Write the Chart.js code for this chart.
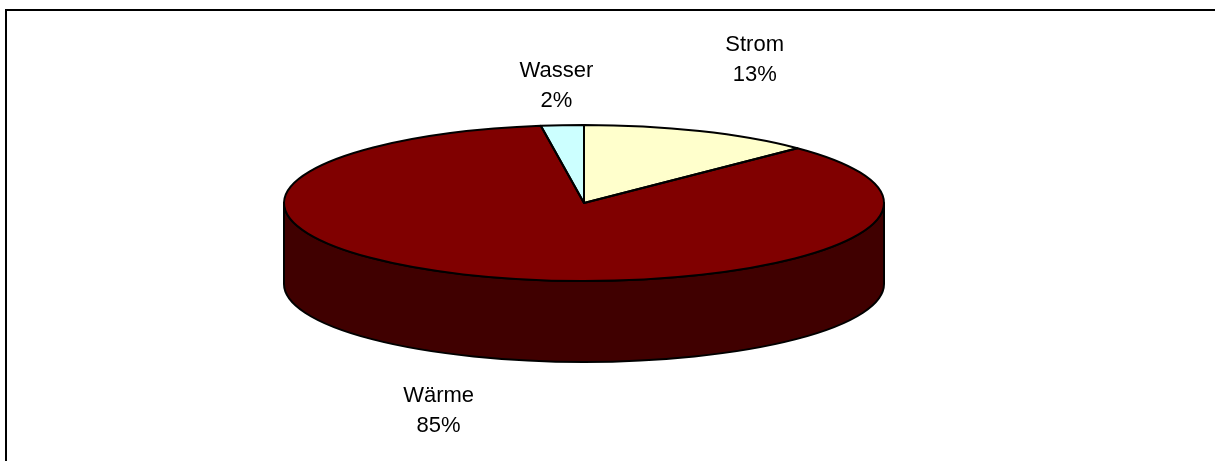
<!DOCTYPE html>
<html><head><meta charset="utf-8">
<style>html,body{margin:0;padding:0;background:#fff}#w{position:absolute;left:0;top:0;width:1215px;height:461px}</style>
<script src="https://cdn.jsdelivr.net/npm/chart.js@4"></script></head>
<body><div id="w"><canvas id="c" width="1215" height="461"></canvas></div>
<script>
const categories = ["Strom", "Wärme", "Wasser"];
const shares = [12.6, 85.1, 2.3];
const topColors = ["#FFFFCC", "#800000", "#CCFFFF"];
const sideColors = ["#808066", "#400000", "#668080"];
const labelOffsets = [[55, -80], [-50, 44], [-6, -48]];

const CX = 584, CY = 203, RX = 300, RY = 78, DEPTH = 81;
const K = RY / RX;
const frame = {x: 6, y: 10};

const pie3d = {
  id: 'pie3d',
  beforeDraw(chart) {
    const ctx = chart.ctx;
    ctx.save();
    ctx.fillStyle = '#fff';
    ctx.fillRect(0, 0, chart.width, chart.height);
    ctx.strokeStyle = '#000';
    ctx.lineWidth = 2;
    ctx.beginPath();
    ctx.moveTo(frame.x, chart.height);
    ctx.lineTo(frame.x, frame.y);
    ctx.lineTo(chart.width, frame.y);
    ctx.stroke();
    ctx.restore();
  },
  beforeDatasetDraw(chart) {
    const ctx = chart.ctx, arcs = chart.getDatasetMeta(0).data;
    ctx.lineWidth = 2; ctx.strokeStyle = '#000'; ctx.lineJoin = 'round';
    arcs.forEach((a, i) => {
      const s = a.startAngle, e = a.endAngle;
      [[0, Math.PI], [2 * Math.PI, 3 * Math.PI]].forEach(([lo, hi]) => {
        const a0 = Math.max(s, lo), a1 = Math.min(e, hi);
        if (a1 <= a0) return;
        ctx.beginPath();
        ctx.ellipse(a.x, a.y, a.outerRadius, a.outerRadius * K, 0, a0, a1);
        ctx.ellipse(a.x, a.y + DEPTH, a.outerRadius, a.outerRadius * K, 0, a1, a0, true);
        ctx.closePath();
        ctx.fillStyle = sideColors[i];
        ctx.fill();
        ctx.stroke();
      });
    });
    ctx.save();
    ctx.translate(CX, CY); ctx.scale(1, K); ctx.translate(-CX, -CY);
  },
  afterDatasetDraw(chart) {
    const ctx = chart.ctx, arcs = chart.getDatasetMeta(0).data;
    ctx.restore();
    ctx.lineWidth = 2; ctx.strokeStyle = '#000'; ctx.lineJoin = 'round';
    arcs.forEach(a => {
      ctx.beginPath();
      ctx.moveTo(a.x, a.y);
      ctx.ellipse(a.x, a.y, a.outerRadius, a.outerRadius * K, 0, a.startAngle, a.endAngle);
      ctx.closePath();
      ctx.stroke();
    });
  },
  afterDraw(chart) {
    const ctx = chart.ctx, arcs = chart.getDatasetMeta(0).data;
    const total = shares.reduce((p, v) => p + v, 0);
    ctx.save();
    ctx.fillStyle = '#000';
    ctx.font = '22px "Liberation Sans", Arial, sans-serif';
    ctx.textAlign = 'center';
    ctx.textBaseline = 'alphabetic';
    arcs.forEach((a, i) => {
      const m = (a.startAngle + a.endAngle) / 2;
      const ax = a.x + a.outerRadius * Math.cos(m);
      const ay = a.y + a.outerRadius * K * Math.sin(m) + (Math.sin(m) > 0 ? DEPTH : 0);
      const [dx, dy] = labelOffsets[i];
      ctx.fillText(categories[i], ax + dx, ay + dy);
      ctx.fillText(Math.round(shares[i] / total * 100) + '%', ax + dx, ay + dy + 30);
    });
    ctx.restore();
  }
};

new Chart(document.getElementById('c'), {
  type: 'pie',
  data: { labels: categories, datasets: [{ data: shares, backgroundColor: topColors, borderWidth: 0, radius: RX }] },
  options: {
    responsive: false, animation: false,
    layout: { padding: { left: 0, top: 0, right: 1215 - 2 * CX, bottom: 461 - 2 * CY } },
    plugins: { legend: { display: false }, tooltip: { enabled: false }, title: { display: false } }
  },
  plugins: [pie3d]
});
</script></body></html>
